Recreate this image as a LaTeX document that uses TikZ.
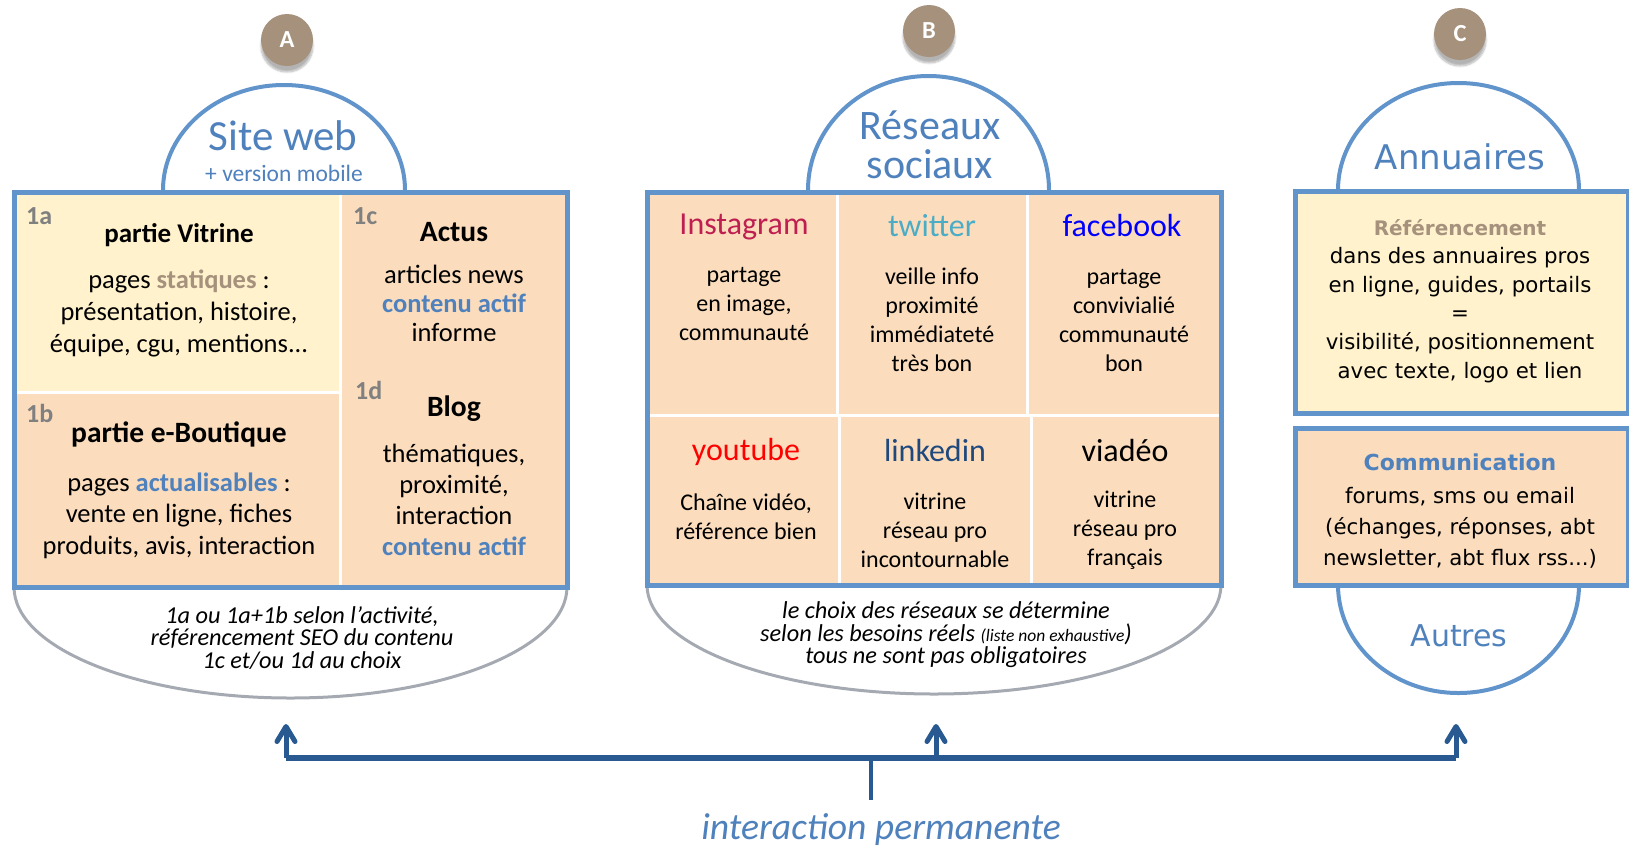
\documentclass[tikz,border=0pt]{standalone}
\usepackage{fontspec}
\setmainfont{Carlito}
\newfontfamily\dejavu{DejaVu Sans}
\usetikzlibrary{arrows.meta,shadows.blur}

\definecolor{bordblue}{RGB}{98,148,204}
\definecolor{titblue}{RGB}{79,129,189}
\definecolor{yelfill}{RGB}{255,242,204}
\definecolor{orafill}{RGB}{251,221,189}
\definecolor{brownc}{RGB}{166,145,124}
\definecolor{labgray}{RGB}{128,128,128}
\definecolor{arcgray}{RGB}{165,170,178}
\definecolor{arrblue}{RGB}{40,90,145}
\definecolor{instared}{RGB}{190,30,80}
\definecolor{twitblue}{RGB}{75,172,198}
\definecolor{fbblue}{RGB}{0,0,255}
\definecolor{ytred}{RGB}{255,0,0}
\definecolor{lkblue}{RGB}{31,73,125}

\newcommand\fsz[2]{\fontsize{#1}{#2}\selectfont}

\begin{document}
\begin{tikzpicture}[x=1pt,y=1pt,
  dome/.style={draw=bordblue, line width=4pt, fill=white},
  frame/.style={draw=bordblue, line width=5pt},
  garc/.style={draw=arcgray, line width=3pt},
  sep/.style={draw=white, line width=3pt},
  letter/.style={circle, fill=brownc, minimum size=52pt, inner sep=0pt, text=white,
    font=\fsz{24.5}{28}\bfseries,
    blur shadow={shadow xshift=0pt, shadow yshift=-6pt, shadow blur steps=8, shadow opacity=30}},
  lab/.style={anchor=west, text=labgray, font=\fsz{26}{30}\bfseries, inner sep=0pt},
  headA/.style={font=\fsz{27}{32}\bfseries, inner sep=0pt},
  headAA/.style={font=\fsz{29.5}{34}\bfseries, inner sep=0pt},
  bodyA/.style={align=center, inner sep=0pt},
  netname/.style={font=\fsz{32}{36}, inner sep=0pt},
  bodyB/.style={align=center, font=\fsz{24}{29}, inner sep=0pt},
  notes/.style={align=center, font=\fsz{24.3}{22.5}\itshape, inner sep=0pt},
  bodyC/.style={align=center, inner sep=0pt},
  arr/.style={draw=arrblue, line width=5pt, -{Straight Barb[length=15pt, width=18pt, round]}},
  bar/.style={draw=arrblue, line width=6pt},
  stem/.style={draw=arrblue, line width=4pt}
]
\useasboundingbox (0,0) rectangle (1629,-849);

% ---------- letters ----------
\node[letter] (cA) at (287,-40) {A};
\node[letter] (cB) at (929,-31) {B};
\node[letter] (cC) at (1460,-34) {C};

% ---------- domes ----------
\draw[dome] (163,-190) arc[start angle=180, end angle=0, x radius=121, y radius=105];
\draw[dome] (808,-190) arc[start angle=180, end angle=0, x radius=120.5, y radius=114];
\draw[dome] (1338,-190) arc[start angle=180, end angle=0, x radius=120.5, y radius=107];
\draw[dome] (1338,-585) arc[start angle=180, end angle=360, x radius=120.5, y radius=108];

% ---------- bottom grey arcs ----------
\draw[garc] (14,-587) arc[start angle=180, end angle=360, x radius=276.5, y radius=111];
\draw[garc] (647,-585) arc[start angle=180, end angle=360, x radius=287, y radius=109];

% ---------- box A ----------
\fill[orafill] (14,-192) rectangle (567,-587);
\fill[yelfill] (14,-192) rectangle (340,-392);
\draw[sep] (340,-192) -- (340,-587);
\draw[sep] (14,-392) -- (340,-392);
\draw[frame] (14,-192) rectangle (567,-587);

% ---------- box B ----------
\fill[orafill] (647,-192) rectangle (1221,-585);
\draw[sep] (647,-415.5) -- (1221,-415.5);
\draw[sep] (837.5,-192) -- (837.5,-415.5);
\draw[sep] (1027,-192) -- (1027,-415.5);
\draw[sep] (839.5,-415.5) -- (839.5,-585);
\draw[sep] (1031,-415.5) -- (1031,-585);
\draw[frame] (647,-192) rectangle (1221,-585);

% ---------- boxes C ----------
\fill[yelfill] (1295.5,-191) rectangle (1628,-413);
\draw[frame] (1295.5,-191) rectangle (1628,-413);
\fill[orafill] (1295.5,-428) rectangle (1628,-585);
\draw[frame] (1295.5,-428) rectangle (1628,-585);

% ---------- titles ----------
\node[text=titblue, font=\fsz{43}{46}, inner sep=0pt] (tSite) at (283,-136) {Site web};
\node[text=titblue, font=\fsz{23.5}{26}, inner sep=0pt] (tMob) at (284,-173.5) {+ version mobile};
\node[text=titblue, font=\fsz{42}{38.5}, align=center, inner sep=0pt] (tRes) at (930,-145) {Réseaux\\sociaux};
\node[text=titblue, font=\dejavu\fsz{34}{38}, inner sep=0pt] (tAnn) at (1460,-157) {Annuaires};
\node[text=titblue, font=\dejavu\fsz{30}{34}, inner sep=0pt] (tAut) at (1459,-636) {Autres};

% ---------- box A texts ----------
\node[lab] (l1a) at (26,-216) {1a};
\node[headA] (hVit) at (179,-235) {partie Vitrine};
\node[bodyA, font=\fsz{26.5}{32}] (bVit) at (179,-313)
  {pages {\color{brownc}\bfseries statiques} :\\présentation, histoire,\\équipe, cgu, mentions...};
\node[lab] (l1b) at (26,-413.5) {1b};
\node[headAA] (hBout) at (179,-434) {partie e-Boutique};
\node[bodyA, font=\fsz{26.5}{31.5}] (bBout) at (179,-515.5)
  {pages {\color{titblue}\bfseries actualisables} :\\vente en ligne, fiches\\produits, avis, interaction};
\node[lab] (l1c) at (353,-216) {1c};
\node[headAA] (hAct) at (454,-232) {Actus};
\node[bodyA, font=\fsz{26.5}{29}] (bAct) at (454,-303)
  {articles news\\{\color{titblue}\bfseries contenu actif}\\informe};
\node[lab] (l1d) at (355,-390) {1d};
\node[headAA] (hBlog) at (454,-408.5) {Blog};
\node[bodyA, font=\fsz{26.5}{31}] (bBlog) at (454,-500)
  {thématiques,\\proximité,\\interaction\\{\color{titblue}\bfseries contenu actif}};

% ---------- box B texts ----------
\node[netname, text=instared] (nIns) at (744,-227) {Instagram};
\node[bodyB] (bIns) at (744,-303.7) {partage\\en image,\\communauté};
\node[netname, text=twitblue] (nTw) at (932,-225.5) {twitter};
\node[bodyB] (bTw) at (932,-320) {veille info\\proximité\\immédiateté\\très bon};
\node[netname, text=fbblue] (nFb) at (1122,-225.5) {facebook};
\node[bodyB] (bFb) at (1124,-320) {partage\\convivialié\\communauté\\bon};
\node[netname, text=ytred] (nYt) at (746,-452) {youtube};
\node[bodyB] (bYt) at (746,-516.5) {Chaîne vidéo,\\référence bien};
\node[netname, text=lkblue] (nLk) at (935,-450) {linkedin};
\node[bodyB] (bLk) at (935,-530) {vitrine\\réseau pro\\incontournable};
\node[netname] (nVi) at (1125,-450) {viadéo};
\node[bodyB] (bVi) at (1125,-530) {vitrine\\réseau pro\\français};

% ---------- box C texts ----------
\node[bodyC, text=brownc, font=\dejavu\bfseries\fsz{20}{24}] (hRef) at (1460,-227.5) {Référencement};
\node[bodyC, font=\dejavu\fsz{21.3}{28.8}] (bRef) at (1460,-315)
  {dans des annuaires pros\\en ligne, guides, portails\\=\\visibilité, positionnement\\avec texte, logo et lien};
\node[bodyC, text=titblue, font=\dejavu\bfseries\fsz{22}{26}] (hCom) at (1460,-462) {Communication};
\node[bodyC, font=\dejavu\fsz{21.3}{31}] (bCom) at (1460,-528)
  {forums, sms ou email\\(échanges, réponses, abt\\newsletter, abt flux rss...)};

% ---------- notes under boxes ----------
\node[notes] (nA) at (302,-638)
  {1a ou 1a+1b selon l’activité,\\référencement SEO du contenu\\1c et/ou 1d au choix};
\node[notes] (nB) at (946,-635)
  {le choix des réseaux se détermine\\selon les besoins réels {\fsz{17.5}{20}(liste non exhaustive}) \\tous ne sont pas obligatoires};

% ---------- interaction arrows ----------
\coordinate (hL) at (286,-758);
\coordinate (hM) at (936,-758);
\coordinate (hR) at (1456,-758);
\coordinate (hS) at (871,-758);
\coordinate (sB) at (871,-800);
\coordinate (aA) at (286,-724);
\coordinate (aB) at (936,-724);
\coordinate (aC) at (1456,-724);
\draw[arr] (hL) -- (aA);
\draw[arr] (hM) -- (aB);
\draw[arr] (hR) -- (aC);
\draw[bar] (hL) -- (hR);
\draw[stem] (hS) -- (sB);
\node[text=titblue, font=\fsz{37.6}{40}\itshape, inner sep=0pt] (tInt) at (881,-830) {interaction permanente};
\end{tikzpicture}
\end{document}
